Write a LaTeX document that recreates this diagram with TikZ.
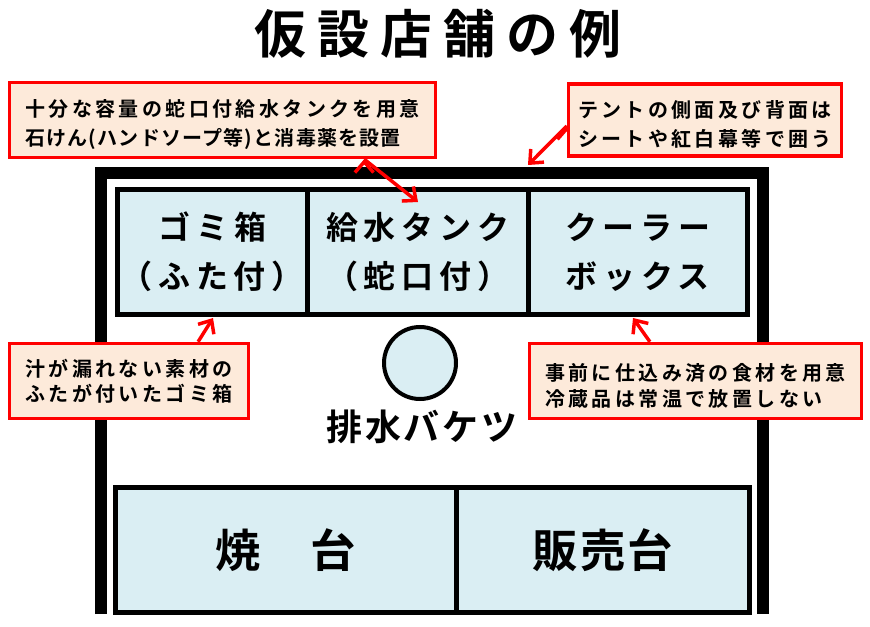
\documentclass[tikz,border=0pt]{standalone}
\usepackage{fontspec}
\setmainfont{Noto Sans CJK JP}[BoldFont=* Bold]
\usepackage{tikz}
\usetikzlibrary{positioning,calc}
\usetikzlibrary{backgrounds}
\usetikzlibrary{arrows.meta}
\definecolor{cellfill}{RGB}{218,238,243}
\definecolor{notefill}{RGB}{253,234,218}
\definecolor{notered}{RGB}{255,0,0}
\newcommand{\notedrop}{\rule{0pt}{20pt}}

\begin{document}
\begin{tikzpicture}[
  x = 0.75pt,
  y = -0.75pt,
  tent/.style = {
    draw,
    line width = 9pt,
    line join = miter,
  },
  cell/.style = {
    draw,
    rectangle,
    fill = cellfill,
    line width = 3.75pt,
    inner sep = 0pt,
    minimum height = 93.75pt,
    align = center,
    font = \bfseries\fontsize{24}{37}\selectfont\addfontfeatures{LetterSpace=18},
  },
  table/.style = {
    cell,
    font = \bfseries\fontsize{34}{40}\selectfont\addfontfeatures{LetterSpace=4},
  },
  note/.style = {
    draw = notered,
    rectangle,
    fill = notefill,
    line width = 2.6pt,
    inner sep = 0pt,
    minimum height = 56.25pt,
    align = left,
    font = \bfseries\fontsize{15}{19}\selectfont\addfontfeatures{LetterSpace=17},
  },
  bucket/.style = {
    draw,
    circle,
    fill = cellfill,
    line width = 3pt,
    minimum size = 54pt,
  },
  pointer/.style = {
    draw = notered,
    line width = 2.6pt,
    ->,
  },
  >={Straight Barb[length=8pt,width=14pt]},
]

  \useasboundingbox (0,0) rectangle (870,627);

  \node[font=\bfseries\fontsize{39}{44}\selectfont\addfontfeatures{LetterSpace=21}] (title) at (438,34) {仮設店舗の例};

  \begin{scope}[on background layer]
    \fill[white] (0,0) rectangle (870,627);

    % tent
    \draw[tent] (101,614) -- (101,173) -- (763,173) -- (763,614);

    \node[cell,minimum width=142.875pt] (c0) at (212.25,252) {ゴミ箱\\（ふた付）};
    \node[cell,minimum width=165.375pt] (c1) at (417.75,252) {給水タンク\\（蛇口付）};
    \node[cell,minimum width=164.625pt] (c2) at (637.75,252) {クーラー\\ボックス};

    \node[table,minimum width=256.125pt] (t0) at (285.75,550) {焼　台};
    \node[table,minimum width=219.375pt] (t1) at (602.75,550) {販売台};

    \node[bucket] (b0) at (420,363) {};
  \end{scope}
  \node[font=\bfseries\fontsize{27}{32}\selectfont\addfontfeatures{LetterSpace=8}] (bl) at (422,427) {排水バケツ};

  % notes
  \node[note,minimum width=319.5pt,font=\bfseries\fontsize{15}{21.75}\selectfont\addfontfeatures{LetterSpace=17}] (m0) at (222.5,120)
    {\notedrop 十分な容量の蛇口付給水タンクを用意\\{\addfontfeatures{LetterSpace=6}石けん(ハンドソープ等)と消毒薬を設置}};
  \node[note,minimum width=204.75pt,minimum height=54pt,font=\bfseries\fontsize{15}{21.75}\selectfont\addfontfeatures{LetterSpace=17}] (m1) at (705,120) {\notedrop テントの側面及び背面は\\シートや紅白幕等で囲う};
  \node[note,minimum width=179.25pt,font=\bfseries\fontsize{15}{18.75}\selectfont\addfontfeatures{LetterSpace=17}] (m2) at (129,381) {汁が漏れない素材の\\ふたが付いたゴミ箱};
  \node[note,minimum width=249pt,font=\bfseries\fontsize{15}{19.5}\selectfont\addfontfeatures{LetterSpace=17}] (m3) at (695.5,381) {\notedrop 事前に仕込み済の食材を用意\\冷蔵品は常温で放置しない};

  \coordinate (s0) at ($(m0.south west)!0.83!(m0.south east)$);
  \coordinate (s1) at ($(m1.west)+(0,6)$);
  \coordinate (s2) at ($(m2.north west)!0.785!(m2.north east)$);
  \coordinate (s3) at ($(m3.north west)!0.364!(m3.north east)$);

  \coordinate (h0) at (418,202);
  \coordinate (h1) at (528,165);
  \coordinate (h2) at (213,318);
  \coordinate (h3) at (633,318);

  \begin{scope}[on background layer]
    \path[pointer] (s0) edge (h0);
    \path[pointer] (s1) edge (h1);
    \path[pointer] (s2) edge (h2);
    \path[pointer] (s3) edge (h3);
  \end{scope}

\end{tikzpicture}
\end{document}
